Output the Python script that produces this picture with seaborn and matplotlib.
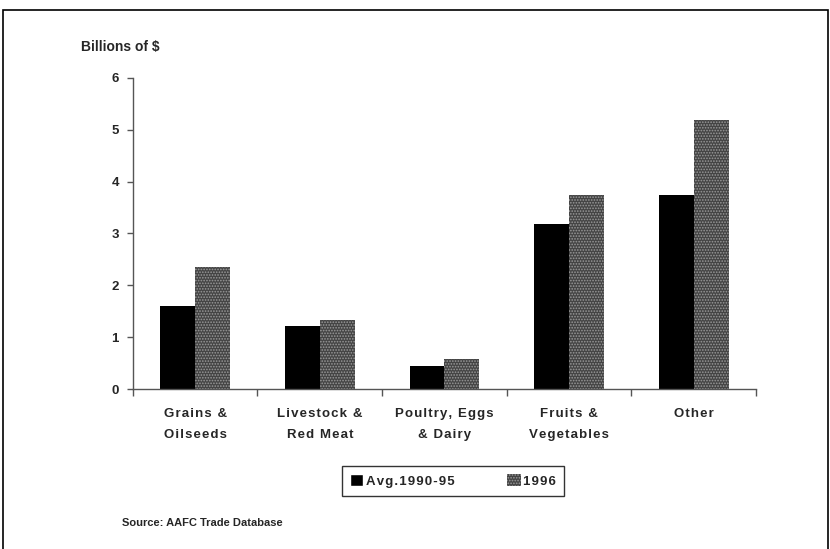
import seaborn as sns
import matplotlib.pyplot as plt
import matplotlib.patches as mpatches
import pandas as pd

# values in billions of $
categories = ["Grains &\nOilseeds", "Livestock &\nRed Meat", "Poultry, Eggs\n& Dairy",
              "Fruits &\nVegetables", "Other"]
avg_1990_95 = [1.60, 1.22, 0.45, 3.19, 3.74]
y_1996 = [2.36, 1.33, 0.57, 3.75, 5.18]
series_names = ["Avg.1990-95", "1996"]

sns.set_theme(style="white")
plt.rcParams['font.family'] = ['Liberation Sans', 'DejaVu Sans']
plt.rcParams['hatch.linewidth'] = 0.8


def spaced(s):
    # the original uses wide letter spacing
    return "\n".join("\u200a".join(line) for line in s.split("\n"))


df = pd.DataFrame({"category": categories * 2,
                   "value": avg_1990_95 + y_1996,
                   "series": [series_names[0]] * 5 + [series_names[1]] * 5})

fig = plt.figure(figsize=(8.3, 5.49), dpi=100)
ax = fig.add_axes([0.160, 0.2914, 0.751, 0.5666])

sns.barplot(data=df, x="category", y="value", hue="series", hue_order=series_names,
            palette=["black", "#444444"], width=0.56, saturation=1, ax=ax,
            linewidth=0, legend=False)

# stipple texture on the 1996 bars
for bar in ax.containers[1]:
    bar.set_hatch("......")
    bar.set_edgecolor("#9a9a9a")
    bar.set_linewidth(0)

ax.set_ylim(0, 6)
ax.set_xlim(-0.5, 4.5)
ax.set_yticks(range(0, 7))
ax.set_xticks(range(5))
ax.set_xticklabels([spaced(c) for c in categories])
ax.set_xlabel("")
ax.set_ylabel("")
for s in ["top", "right"]:
    ax.spines[s].set_visible(False)
for s in ["left", "bottom"]:
    ax.spines[s].set_color("#555555")
    ax.spines[s].set_linewidth(1.0)

ax.tick_params(axis="y", left=True, length=4, width=1, color="#555555", pad=6,
               labelsize=9.5)
ax.tick_params(axis="x", bottom=False, length=0, pad=14, labelsize=9.5)
ax.set_xticks([i - 0.5 for i in range(6)], minor=True)
ax.tick_params(axis="x", which="minor", bottom=True, length=5, width=1, color="#555555")
for lab in ax.get_xticklabels() + ax.get_yticklabels():
    lab.set_fontweight("bold")
for lab in ax.get_xticklabels():
    lab.set_linespacing(2.0)

fig.text(0.097, 0.914, "Billions of $", fontsize=10, fontweight="bold", va="center")
fig.text(0.147, 0.047, "Source: AAFC Trade Database", fontsize=8, fontweight="bold",
         va="center")

handles = [mpatches.Patch(facecolor="black", label=spaced(series_names[0])),
           mpatches.Patch(facecolor="#444444", edgecolor="#9a9a9a", hatch="......",
                          linewidth=0, label=spaced(series_names[1]))]
leg = fig.legend(handles=handles, loc="center", bbox_to_anchor=(0.546, 0.124), ncol=2,
                 frameon=True, fancybox=False, handlelength=1.0, handleheight=1.0,
                 handletextpad=0.2, columnspacing=4.0, borderpad=0.6,
                 prop={"weight": "bold", "size": 9.5})
leg.get_frame().set_edgecolor("black")
leg.get_frame().set_linewidth(1.0)

# outer frame around the chart
fig.patches.append(mpatches.Rectangle((0.004, -0.01), 0.994, 0.992, transform=fig.transFigure,
                                      fill=False, edgecolor="black", linewidth=1.2))

plt.savefig("out.png", dpi=100)
